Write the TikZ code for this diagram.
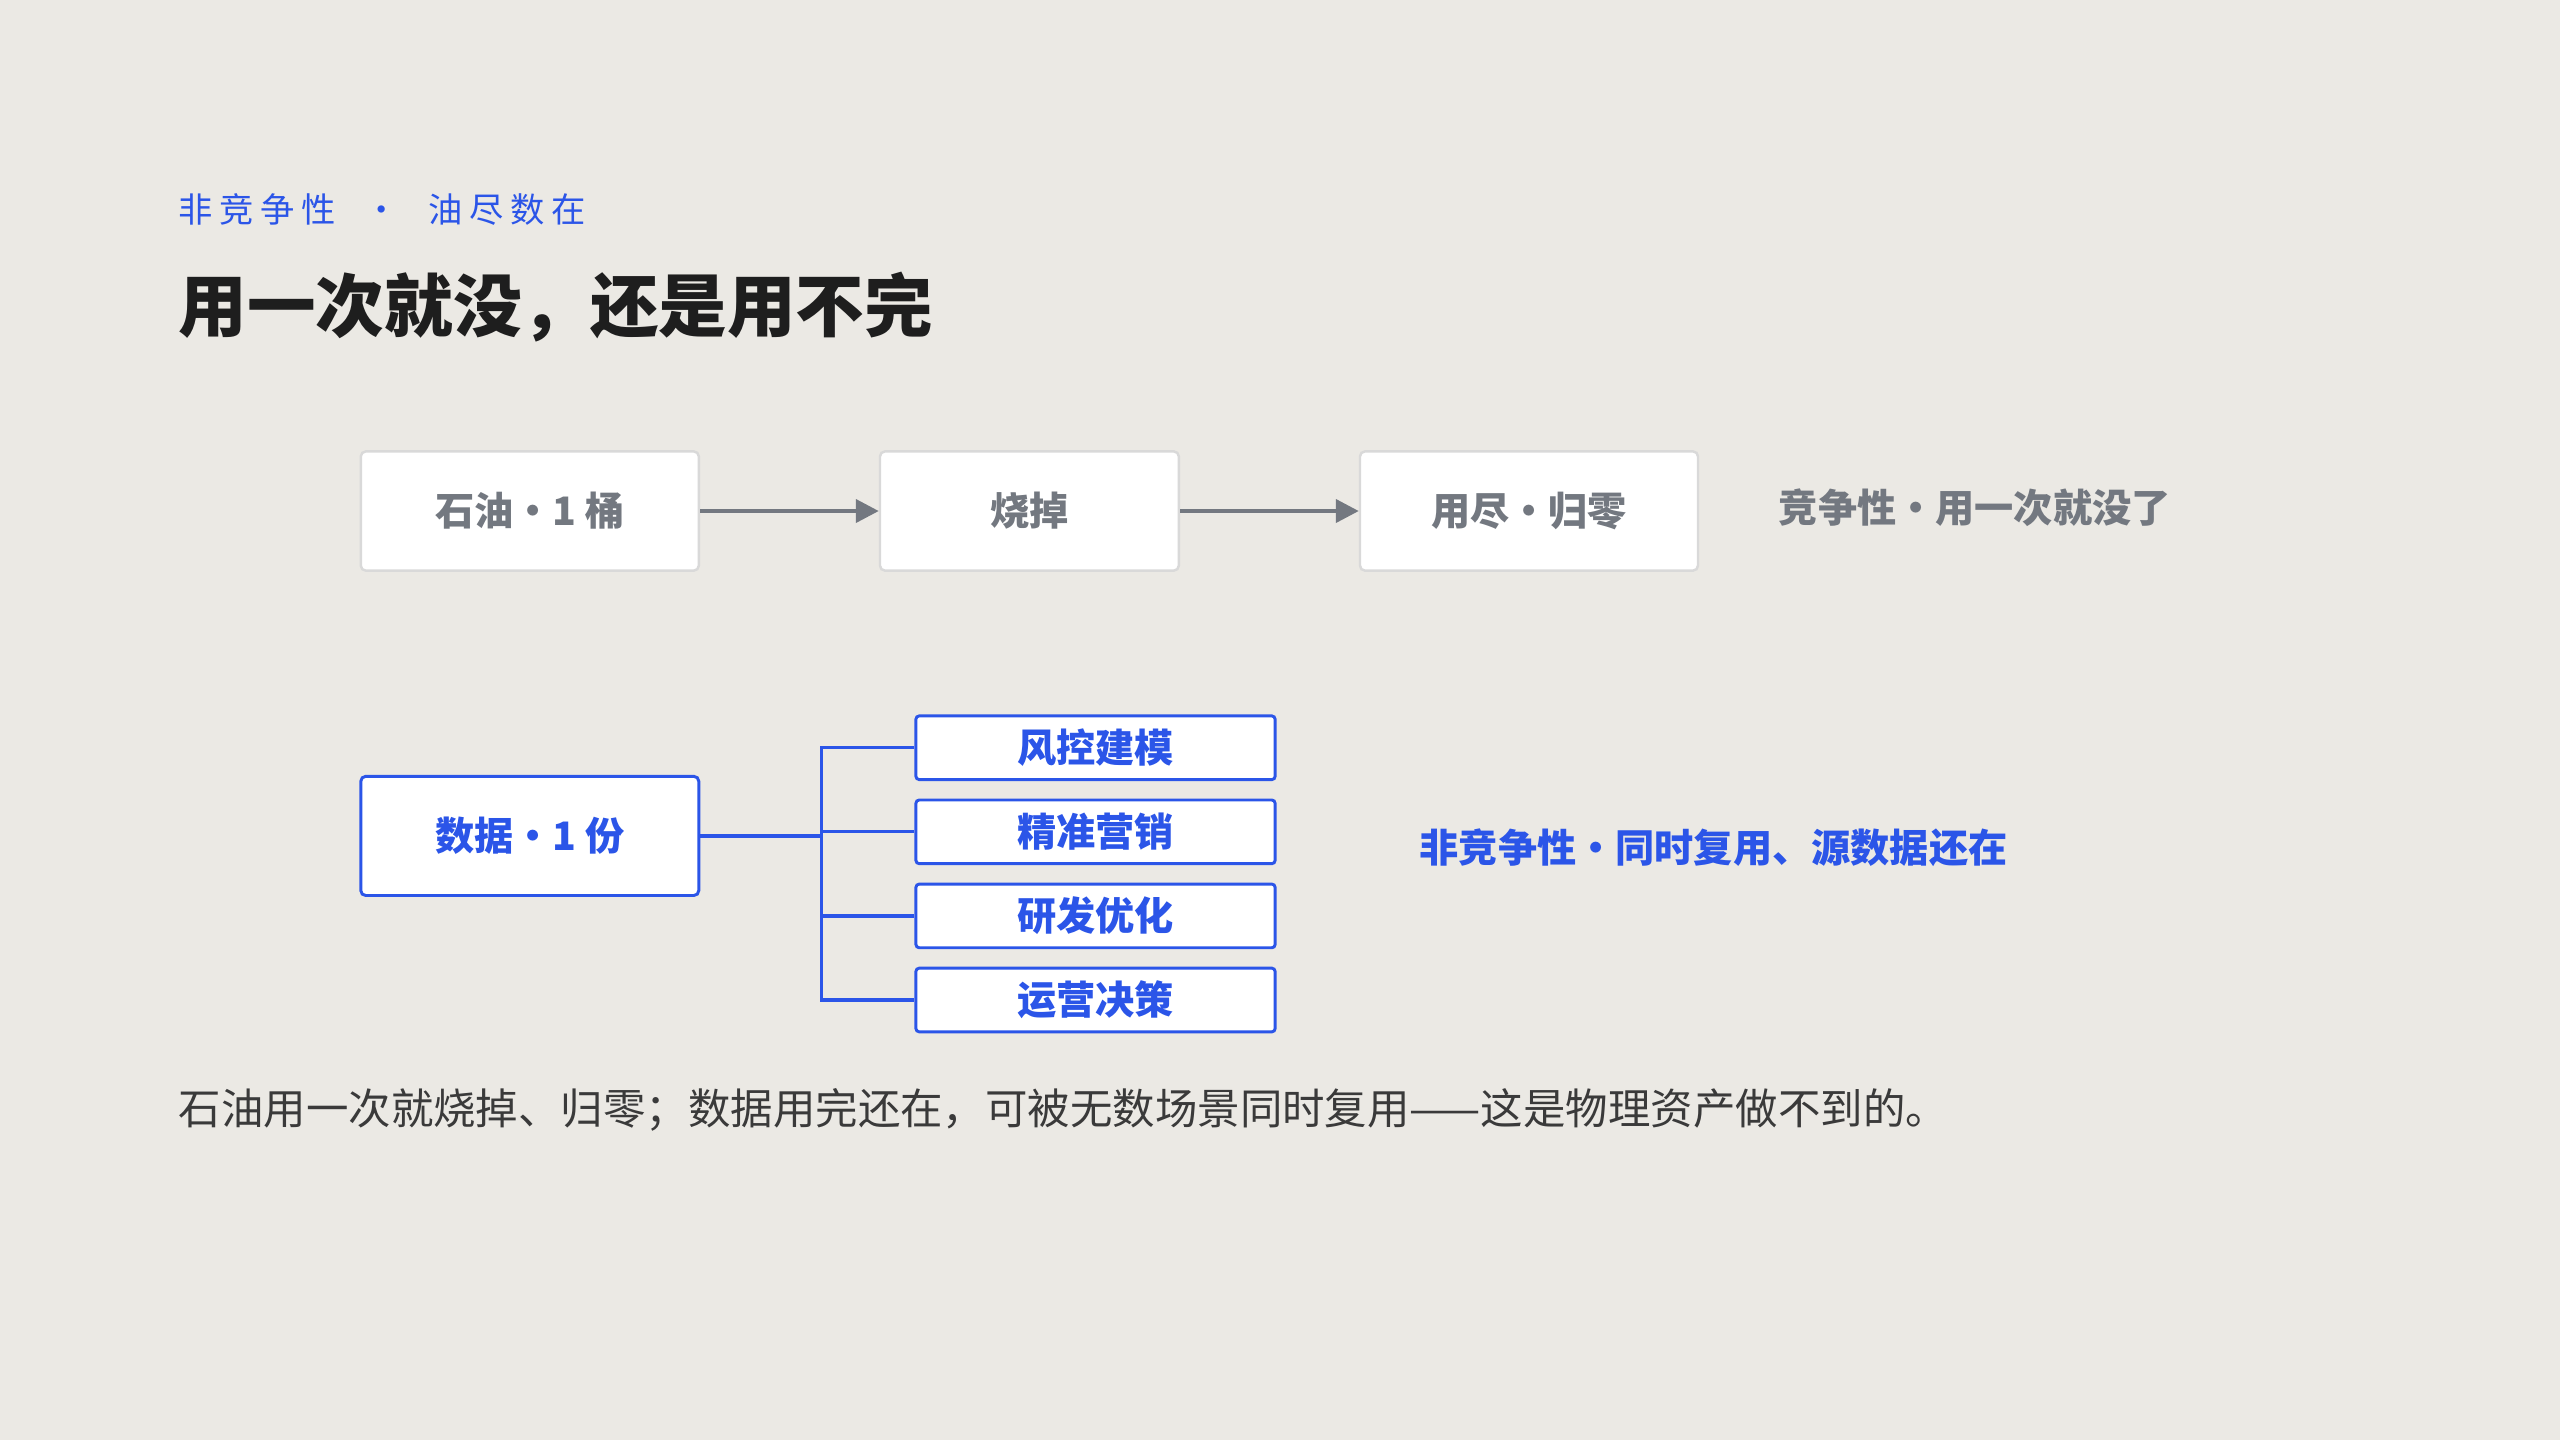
\documentclass[tikz,border=0pt]{standalone}
\usepackage{fontspec}
\setmainfont{Noto Sans CJK SC}
\usetikzlibrary{arrows.meta,positioning}
\definecolor{bgc}{HTML}{EBE9E4}
\definecolor{accent}{HTML}{2B55E8}
\definecolor{greytext}{HTML}{737880}
\definecolor{darktext}{HTML}{1E1E1E}
\definecolor{bodytext}{HTML}{3A3A3A}
\newcommand{\dotsep}{\hspace{0pt}·\hspace{0pt}}
\tikzset{oilbox/.style={rectangle,rounded corners=3pt,fill=white,draw=black!15,line width=1.5pt,
  text=greytext,font=\fontsize{24}{24}\selectfont\bfseries,minimum height=73pt,inner sep=0pt}}
\tikzset{databox/.style={rectangle,rounded corners=3pt,fill=white,draw=accent,line width=1.8pt,
  text=accent,font=\fontsize{24}{24}\selectfont\bfseries,minimum height=73pt,minimum width=207pt,inner sep=0pt}}
\tikzset{usebox/.style={rectangle,rounded corners=2pt,fill=white,draw=accent,line width=1.8pt,
  text=accent,font=\fontsize{24}{24}\selectfont\bfseries,minimum height=39pt,minimum width=220pt,inner sep=0pt}}
\tikzset{flow/.style={-{Triangle[length=14pt,width=14pt]},draw=greytext,fill=greytext,line width=2.5pt}}
\tikzset{branch/.style={draw=accent,line width=2pt}}
\begin{document}
\begin{tikzpicture}[x=1pt,y=-1pt]
  \fill[bgc] (0,0) rectangle (1568,882);
  \useasboundingbox (0,0) rectangle (1568,882);

  \node[anchor=west,text=accent,font=\fontsize{21}{21}\selectfont] (kicker) at (106,128)
    {非\hspace{4pt}竞\hspace{4pt}争\hspace{4pt}性\hspace{18pt}·\hspace{18pt}油\hspace{4pt}尽\hspace{4pt}数\hspace{4pt}在};
  \node[anchor=west,text=darktext,font=\fontsize{42}{42}\selectfont\bfseries] (title) at (106,188)
    {用一次就没，还是用不完};

  \node[oilbox,minimum width=207pt] (oil)  at (324.5,313) {石油\dotsep 1 桶};
  \node[oilbox,minimum width=183pt] (burn) at (630.5,313) {烧掉};
  \node[oilbox,minimum width=207pt] (zero) at (936.5,313) {用尽\dotsep 归零};
  \draw[flow] (oil) -- (burn);
  \draw[flow] (burn) -- (zero);
  \node[anchor=west,text=greytext,font=\fontsize{24}{24}\selectfont\bfseries] (rival) at (1086,311)
    {竞争性\dotsep 用一次就没了};

  \node[databox] (data) at (324.5,512) {数据\dotsep 1 份};
  \node[usebox] (u1) at (671,458) {风控建模};
  \node[usebox] (u2) at (671,509.5) {精准营销};
  \node[usebox] (u3) at (671,561) {研发优化};
  \node[usebox] (u4) at (671,612.5) {运营决策};
  \coordinate (hub) at (503,512);
  \draw[branch] (data) -- (hub);
  \draw[branch] (u1.west) -| (hub) |- (u4.west);
  \foreach \u in {u2,u3}
    \draw[branch] (\u.west) -- (\u.west -| hub);
  \node[anchor=west,text=accent,font=\fontsize{24}{24}\selectfont\bfseries] (nonrival) at (866,519)
    {非竞争性\dotsep 同时复用、源数据还在};

  \node[anchor=west,text=bodytext,font=\fontsize{26}{26}\selectfont] (note) at (106,680)
    {石油用一次就烧掉、归零；数据用完还在，可被无数场景同时复用——这是物理资产做不到的。};
\end{tikzpicture}
\end{document}
